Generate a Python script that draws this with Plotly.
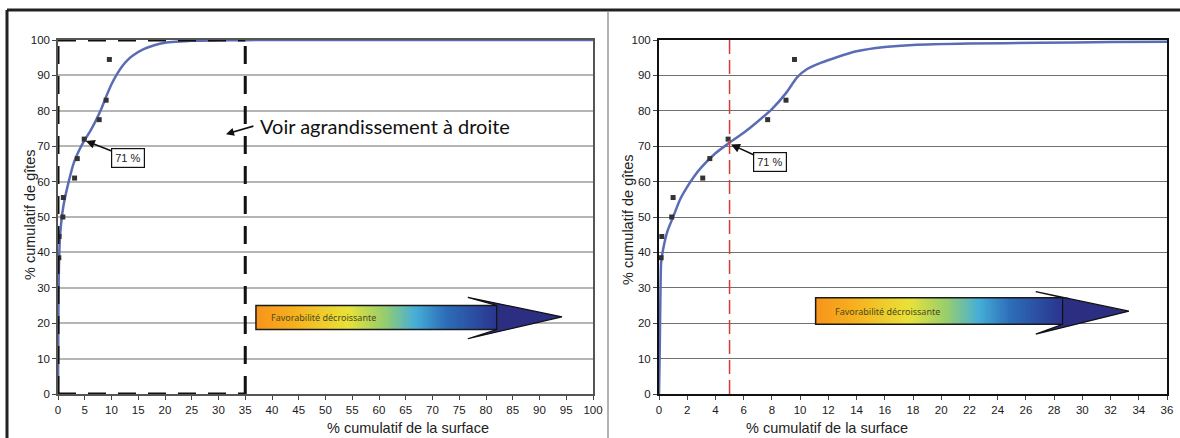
import plotly.graph_objects as go
import numpy as np

# ---------------- data ----------------
pts_x = [0.15, 0.2, 0.9, 1.0, 3.1, 3.6, 4.9, 7.7, 9.0, 9.6]
pts_y = [38.5, 44.5, 50.0, 55.5, 61.0, 66.5, 72.0, 77.5, 83.0, 94.5]

curve_left_x = [0, 0.05, 0.1, 0.2, 0.4, 1, 2, 3, 4, 5, 6, 7, 8, 9, 10, 11, 12, 13, 14, 16, 18, 20, 22, 25, 30, 40, 60, 80, 100]
curve_left_y = [0, 15, 28, 38, 45, 53, 60, 65.5, 69, 71.8, 74.2, 77, 80.2, 84, 87.5, 90.3, 92.6, 94.3, 95.6, 97.4, 98.5, 99.2, 99.5, 99.8, 99.9, 100, 100, 100, 100]

curve_right_x = [0, 0.05, 0.1, 0.15, 0.3, 0.6, 1, 1.5, 2, 2.5, 3, 4, 5, 6, 7, 8, 9, 9.8, 10.5, 11.5, 12.5, 14, 16, 18, 22, 27, 32, 36]
curve_right_y = [0, 12, 28, 37, 41, 46, 50, 55, 58.5, 61.5, 64, 68, 71, 73.8, 77, 80.5, 85, 89.5, 91.8, 93.6, 95, 96.8, 98, 98.6, 99, 99.2, 99.4, 99.5]

left_xticks = list(range(0, 101, 5))
right_xticks = list(range(0, 37, 2))
yticks = list(range(0, 101, 10))

zoom_box = [0, 35]      # zoom rectangle on left panel (x range)
threshold_x = 5         # red dashed line on right panel
label_71 = "71 %"

# ---------------- figure ----------------
fig = go.Figure()

curve_color = "#5a6cb4"

fig.add_trace(go.Scatter(x=curve_left_x, y=curve_left_y, mode="lines", line=dict(color=curve_color, width=2.5, shape="spline", smoothing=0.6),
                         xaxis="x", yaxis="y", showlegend=False, hoverinfo="skip"))
fig.add_trace(go.Scatter(x=pts_x, y=pts_y, mode="markers", marker=dict(symbol="square", size=5, color="#333333"),
                         xaxis="x", yaxis="y", showlegend=False))
fig.add_trace(go.Scatter(x=curve_right_x, y=curve_right_y, mode="lines", line=dict(color=curve_color, width=2.5, shape="spline", smoothing=0.6),
                         xaxis="x2", yaxis="y2", showlegend=False, hoverinfo="skip"))
fig.add_trace(go.Scatter(x=pts_x, y=pts_y, mode="markers", marker=dict(symbol="square", size=5, color="#333333"),
                         xaxis="x2", yaxis="y2", showlegend=False))

W, H = 1180, 438
ydom = [(H - 394) / H, (H - 40) / H]
tickfont = dict(family="Liberation Sans, Arial", size=11.5, color="#1a1a1a")

common_y = dict(range=[0, 100], tickvals=yticks, ticks="outside", ticklen=4, tickfont=tickfont,
                showline=True, mirror=True, zeroline=False, domain=ydom)

fig.update_layout(
    autosize=True, margin=dict(l=0, r=0, t=0, b=0, autoexpand=False),
    paper_bgcolor="white", plot_bgcolor="white",
    xaxis=dict(domain=[58 / W, 593 / W], range=[0, 100], tickvals=left_xticks, ticks="outside", ticklen=4,
               tickfont=tickfont, showline=True, linecolor="#555555", linewidth=1.5, mirror=True,
               showgrid=False, zeroline=False, anchor="y"),
    yaxis=dict(**common_y, linecolor="#555555", linewidth=1.5, showgrid=True, gridcolor="#b5b5b5", gridwidth=1.5, anchor="x"),
    xaxis2=dict(domain=[659 / W, 1167 / W], range=[0, 36], tickvals=right_xticks, ticks="outside", ticklen=4,
                tickfont=tickfont, showline=True, linecolor="#111111", linewidth=2, mirror=True,
                showgrid=False, zeroline=False, anchor="y2"),
    yaxis2=dict(**common_y, linecolor="#111111", linewidth=2, showgrid=True, gridcolor="#707070", gridwidth=1, anchor="x2"),
)

shapes = []
# outer frame
shapes.append(dict(type="line", xref="paper", yref="paper", x0=7 / W, x1=1, y0=1 - 10 / H, y1=1 - 10 / H, line=dict(color="#222", width=3)))
shapes.append(dict(type="line", xref="paper", yref="paper", x0=7 / W, x1=7 / W, y0=0, y1=1 - 10 / H, line=dict(color="#222", width=3)))
shapes.append(dict(type="line", xref="paper", yref="paper", x0=608 / W, x1=608 / W, y0=0, y1=1 - 12 / H, line=dict(color="#9a9a9a", width=1.5)))

# dashed zoom rectangle (left panel)
dash = "18px,12px"
for (xa, ya, xb, yb) in [(zoom_box[1], 0, zoom_box[1], 100), (zoom_box[0], 100, zoom_box[1], 100),
                         (zoom_box[0], 0, zoom_box[0], 100), (zoom_box[0], 0, zoom_box[1], 0)]:
    shapes.append(dict(type="line", xref="x", yref="y", x0=xa, y0=ya, x1=xb, y1=yb,
                       line=dict(color="#111111", width=3, dash=dash)))

# red dashed threshold (right panel)
shapes.append(dict(type="line", xref="x2", yref="y2", x0=threshold_x, x1=threshold_x, y0=0, y1=100,
                   line=dict(color="#d83a3a", width=1.5, dash="14px,6px")))

# gradient arrows
stops = [(0.0, (247, 148, 29)), (0.12, (246, 176, 30)), (0.3, (232, 226, 58)), (0.42, (150, 205, 110)),
         (0.52, (70, 175, 215)), (0.62, (45, 110, 185)), (0.78, (43, 55, 145)), (1.0, (44, 44, 128))]


def col_at(f):
    for i in range(len(stops) - 1):
        f0, c0 = stops[i]
        f1, c1 = stops[i + 1]
        if f <= f1:
            t = (f - f0) / (f1 - f0) if f1 > f0 else 0
            c = [round(c0[k] + t * (c1[k] - c0[k])) for k in range(3)]
            return "rgb(%d,%d,%d)" % tuple(c)
    return "rgb(%d,%d,%d)" % stops[-1][1]


def add_arrow(xr, yr, x0, xbody, ybot, ytop, xback, yhtop, yhbot, xtip, ytip, xnotch):
    n = 110
    total = xtip - x0
    step = (xbody - x0) / n
    for i in range(n):
        a = x0 + step * i
        b = a + step * 1.8
        if b > xbody:
            b = xbody
        f = (a + step / 2 - x0) / total
        shapes.append(dict(type="rect", xref=xr, yref=yr, x0=a, x1=b, y0=ybot, y1=ytop,
                           fillcolor=col_at(f), line=dict(width=0), layer="above"))
    # outline of body
    shapes.append(dict(type="path", xref=xr, yref=yr,
                       path=f"M {xnotch},{ytop} L {x0},{ytop} L {x0},{ybot} L {xnotch},{ybot}",
                       line=dict(color="#1a1a1a", width=1.5), layer="above"))
    # head
    shapes.append(dict(type="path", xref=xr, yref=yr,
                       path=f"M {xback},{yhtop} L {xtip},{ytip} L {xback},{yhbot} L {xnotch},{ybot} L {xnotch},{ytop} Z",
                       fillcolor="rgb(44,46,130)", line=dict(color="#111111", width=1.2), layer="above"))


add_arrow("x", "y", 37.0, 83.0, 18.2, 25.0, 76.6, 27.3, 15.6, 94.2, 21.8, 82.0)
add_arrow("x2", "y2", 11.1, 29.0, 19.7, 27.2, 26.7, 28.9, 16.9, 33.3, 23.4, 28.6)

fig.update_layout(shapes=shapes)

ann = []
# axis titles
title_font = dict(family="Liberation Sans, Arial", size=14.5, color="#222222")
ann.append(dict(text="% cumulatif de gîtes", xref="paper", yref="paper", x=20 / W, y=1 - 215 / H,
                textangle=-90, showarrow=False, font=title_font))
ann.append(dict(text="% cumulatif de gîtes", xref="paper", yref="paper", x=628 / W, y=1 - 220 / H,
                textangle=-90, showarrow=False, font=title_font))
ann.append(dict(text="% cumulatif de la surface", xref="paper", yref="paper", x=325 / W, y=1 - 428 / H,
                yanchor="middle", showarrow=False, font=title_font))
ann.append(dict(text="% cumulatif de la surface", xref="paper", yref="paper", x=910 / W, y=1 - 428 / H,
                yanchor="middle", showarrow=False, font=title_font))

# 71 % labels
ann.append(dict(text=label_71, x=5.2, y=71.5, xref="x", yref="y", ax=13.1, ay=66.8, axref="x", ayref="y",
                showarrow=True, arrowhead=2, arrowsize=1.2, arrowwidth=1.5, arrowcolor="#111",
                bgcolor="white", bordercolor="#111", borderwidth=1.2, borderpad=3,
                font=dict(family="Liberation Sans, Arial", size=11, color="#222")))
ann.append(dict(text=label_71, x=5.1, y=70.5, xref="x2", yref="y2", ax=7.9, ay=65.4, axref="x2", ayref="y2",
                showarrow=True, arrowhead=2, arrowsize=1.2, arrowwidth=1.5, arrowcolor="#111",
                bgcolor="white", bordercolor="#111", borderwidth=1.2, borderpad=3,
                font=dict(family="Liberation Sans, Arial", size=11, color="#222")))

# "Voir agrandissement" text and arrow
ann.append(dict(text="Voir agrandissement à droite", x=37.4, y=75.8, xref="x", yref="y", xanchor="left",
                showarrow=False, font=dict(family="Lato, Noto Sans", size=20, color="#111")))
ann.append(dict(text="", x=31.4, y=73.4, xref="x", yref="y", ax=36.8, ay=75.8, axref="x", ayref="y",
                showarrow=True, arrowhead=2, arrowsize=1, arrowwidth=1.6, arrowcolor="#111"))

# arrow labels
ann.append(dict(text="Favorabilité décroissante", x=39.5, y=21.6, xref="x", yref="y", xanchor="left",
                showarrow=False, font=dict(family="Noto Sans", size=9, color="#4a4a1a")))
ann.append(dict(text="Favorabilité décroissante", x=12.3, y=23.4, xref="x2", yref="y2", xanchor="left",
                showarrow=False, font=dict(family="Noto Sans", size=9, color="#4a4a1a")))

fig.update_layout(annotations=ann)

post = (
    "document.documentElement.style.margin='0';document.documentElement.style.padding='0';"
    "document.documentElement.style.overflow='hidden';"
    "document.body.style.margin='0';document.body.style.padding='0';document.body.style.overflow='hidden';"
    "var gd=document.getElementById('{plot_id}');"
    "var p=gd.parentElement; p.style.position='fixed'; p.style.left='0'; p.style.top='0';"
    "p.style.width='100vw'; p.style.height='100vh';"
    "gd.style.width='100%'; gd.style.height='100%';"
    "Plotly.Plots.resize(gd);"
)

fig.write_html("out.html", default_width="100%", default_height="100%",
               config={"displayModeBar": False, "responsive": True}, post_script=post)
